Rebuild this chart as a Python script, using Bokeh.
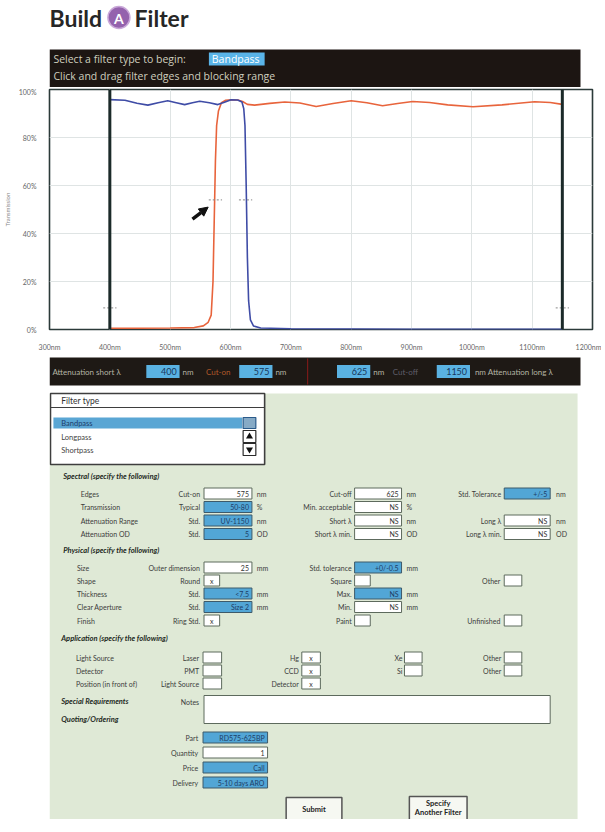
from bokeh.plotting import figure
from bokeh.models import Range1d, FixedTicker, Span, Arrow, NormalHead
from bokeh.layouts import column
from bokeh.embed import file_html
from bokeh.resources import INLINE
from bokeh.core.properties import value

# ---------------- chart data ----------------
wl_cuton = [400, 450, 500, 540, 555, 563, 568, 571, 573, 575, 577, 580, 585, 592, 601, 612, 620,
            628, 640, 665, 690, 715, 742, 770, 800, 826, 852, 877, 902, 930, 960, 1002, 1050, 1104, 1130, 1150]
t_cuton = [0.5, 0.5, 0.6, 0.8, 1.5, 3, 6, 20, 45, 70, 85, 91, 94.5, 95.5, 95.7, 95.6, 95.0,
           93.8, 93.5, 94.2, 94.8, 94.4, 92.9, 94.2, 95.3, 94.5, 93.2, 94.2, 95.0, 94.6, 93.6, 92.8, 93.6, 94.9, 94.6, 93.8]
wl_cutoff = [400, 425, 445, 463, 480, 496, 510, 524, 537, 549, 565, 579, 590, 601, 612, 619, 622,
             624, 626, 628, 630, 633, 638, 650, 700, 800, 900, 1000, 1100, 1150]
t_cutoff = [95.8, 95.5, 94.3, 93.5, 94.5, 95.3, 94.5, 93.7, 94.5, 95.1, 94.5, 93.7, 94.7, 95.7, 95.6, 94.8, 92,
            85, 60, 30, 12, 4, 1.5, 0.6, 0.3, 0.2, 0.1, 0.1, 0.1, 0.1]
edges_nm = [400, 575, 625, 1150]
edge_marker_pct = [9, 54, 54, 9]
x_ticks = [300, 400, 500, 600, 700, 800, 900, 1000, 1100, 1200]
x_tick_labels = ["300nm", "400nm", "500nm", "600nm", "700nm", "800nm", "900nm", "1000nm", "1100nm", "1200nm"]
y_ticks = [0, 20, 40, 60, 80, 100]
y_tick_labels = ["0%", "20%", "40%", "60%", "80%", "100%"]
arrow_nm = [537, 563]
arrow_pct = [46, 51]

# ---------------- form data ----------------
title_words = ["Build", "A", "Filter"]
bar_line1 = "Select a filter type to begin:"
bar_line2 = "Click and drag filter edges and blocking range"
filter_types = ["Bandpass", "Longpass", "Shortpass"]

spectral_labels = ["Edges", "Transmission", "Attenuation Range", "Attenuation OD"]
spectral_sub = ["Cut-on", "Typical", "Std.", "Std."]
spectral_vals = ["575", "50-80", "UV-1150", "5"]
spectral_blue = [False, True, True, True]
spectral_units = ["nm", "%", "nm", "OD"]
spectral_sub2 = ["Cut-off", "Min. acceptable", "Short λ", "Short λ min."]
spectral_vals2 = ["625", "NS", "NS", "NS"]
spectral_units2 = ["nm", "%", "nm", "OD"]
spectral_sub3 = ["Std. Tolerance", "", "Long λ", "Long λ min."]
spectral_vals3 = ["+/-5", None, "NS", "NS"]
spectral_blue3 = [True, False, False, False]
spectral_units3 = ["nm", "", "nm", "OD"]

physical_labels = ["Size", "Shape", "Thickness", "Clear Aperture", "Finish"]
physical_sub = ["Outer dimension", "Round", "Std.", "Std.", "Ring Std."]
physical_vals = ["25", "x", "<7.5", "Size 2", "x"]
physical_kind = ["wide", "small", "wide", "wide", "small"]
physical_blue = [False, False, True, True, False]
physical_units = ["mm", "", "mm", "mm", ""]
physical_sub2 = ["Std. tolerance", "Square", "Max.", "Min.", "Paint"]
physical_vals2 = ["+0/-0.5", "", "NS", "NS", ""]
physical_kind2 = ["wide", "small", "wide", "wide", "small"]
physical_blue2 = [True, False, True, False, False]
physical_units2 = ["mm", "", "mm", "mm", ""]
physical_sub3 = [None, "Other", None, None, "Unfinished"]

app_rows = ["Light Source", "Detector", "Position (in front of)"]
app_c1 = ["Laser", "PMT", "Light Source"]
app_c2 = ["Hg", "CCD", "Detector"]
app_c3 = ["Xe", "Si", None]
app_c4 = ["Other", "Other", None]

quote_labels = ["Part", "Quantity", "Price", "Delivery"]
quote_vals = ["RD575-625BP", "1", "Call", "5-10 days ARO"]
quote_blue = [True, False, True, True]

atten = ["Attenuation short λ", "Cut-on", "Cut-off", "nm Attenuation long λ"]

FONT = value("Lato")
W = 589
BL, BR = 37, 9          # identical left/right borders for every figure (frames align in the column)
XR = (8 + BL, 8 + W - BR)  # page-x of the frame: 45 .. 588

# ---------------- header ----------------
top = figure(width=W, height=87, x_range=Range1d(*XR), y_range=Range1d(95, 8),
             x_axis_location=None, y_axis_location=None,
             min_border_left=BL, min_border_right=BR, min_border_top=0, min_border_bottom=0,
             toolbar_location=None, output_backend="svg")
top.grid.visible = False
top.outline_line_color = None
top.text(x=[45], y=[25], text=[title_words[0]], text_font=FONT, text_font_style="bold",
         text_font_size="23px", text_baseline="middle", text_color="#262626")
top.scatter(x=[116], y=[25], size=22, fill_color="#9462ad", line_color="#c9a8d8", line_width=1.5)
top.text(x=[116], y=[25.5], text=[title_words[1]], text_font=FONT, text_font_style="bold",
         text_font_size="14px", text_align="center", text_baseline="middle", text_color="white")
top.text(x=[132], y=[25], text=[title_words[2]], text_font=FONT, text_font_style="bold",
         text_font_size="23px", text_baseline="middle", text_color="#262626")
top.quad(left=[45], right=[589], top=[57], bottom=[95], fill_color="#1c1512", line_color=None)
top.text(x=[49], y=[66.5], text=[bar_line1], text_font=value("Open Sans"), text_font_size="10.5px",
         text_baseline="middle", text_color="#cfcfbf")
top.quad(left=[208], right=[265], top=[60], bottom=[73], fill_color="#5ab4e8", line_color=None)
top.text(x=[211], y=[66.5], text=[filter_types[0]], text_font=value("Open Sans"), text_font_size="10.5px",
         text_baseline="middle", text_color="white")
top.text(x=[49], y=[83.5], text=[bar_line2], text_font=value("Open Sans"), text_font_size="10.5px",
         text_baseline="middle", text_color="#cfcfbf")

# ---------------- chart ----------------
p = figure(width=W, height=263, frame_width=W - BL - BR, frame_height=240,
           x_range=Range1d(300, 1200), y_range=Range1d(0, 100),
           min_border_left=BL, min_border_right=BR, min_border_top=2, min_border_bottom=21,
           toolbar_location=None, output_backend="svg")
p.outline_line_color = "#2b3a39"
p.outline_line_width = 1.6
p.xaxis.ticker = FixedTicker(ticks=x_ticks)
p.xaxis.major_label_overrides = {t: l for t, l in zip(x_ticks, x_tick_labels)}
p.yaxis.ticker = FixedTicker(ticks=y_ticks)
p.yaxis.major_label_overrides = {t: l for t, l in zip(y_ticks, y_tick_labels)}
for ax in (p.xaxis[0], p.yaxis[0]):
    ax.axis_line_color = None
    ax.major_tick_line_color = None
    ax.minor_tick_line_color = None
    ax.major_label_text_font = "Lato"
    ax.major_label_text_font_size = "7px"
    ax.major_label_text_color = "#666666"
p.xaxis.major_label_standoff = 7
p.yaxis.major_label_standoff = 7
p.yaxis.axis_label = "Transmission"
p.yaxis.axis_label_text_font = "Lato"
p.yaxis.axis_label_text_font_size = "6px"
p.yaxis.axis_label_text_font_style = "normal"
p.yaxis.axis_label_text_color = "#888888"
p.yaxis.axis_label_standoff = 5
p.xgrid.grid_line_color = "#dfe4e4"
p.ygrid.grid_line_color = "#dfe4e4"
p.line(wl_cuton, t_cuton, line_color="#e8643c", line_width=1.6)
p.line(wl_cutoff, t_cutoff, line_color="#3f4ca6", line_width=1.6)
for e in (edges_nm[0], edges_nm[-1]):
    p.add_layout(Span(location=e, dimension="height", line_color="#1b2a29", line_width=3))
p.segment(x0=[e - 11 for e in edges_nm], y0=edge_marker_pct, x1=[e + 11 for e in edges_nm],
          y1=edge_marker_pct, line_color="#888888", line_width=1, line_dash="2 2")
p.add_layout(Arrow(end=NormalHead(size=9, fill_color="#111111", line_color="#111111"),
                   x_start=arrow_nm[0], y_start=arrow_pct[0], x_end=arrow_nm[1], y_end=arrow_pct[1],
                   line_width=3.5, line_color="#111111"))

# ---------------- form ----------------
FH = 466
f = figure(width=W, height=FH, x_range=Range1d(*XR), y_range=Range1d(358 + FH, 358),
           x_axis_location=None, y_axis_location=None,
           min_border_left=BL, min_border_right=BR, min_border_top=0, min_border_bottom=0,
           toolbar_location=None, output_backend="svg")
f.grid.visible = False
f.outline_line_color = None

STY = {
    "label": ("left", "7px", "#3c3c3c", "normal"),
    "rlabel": ("right", "7px", "#3c3c3c", "normal"),
    "head": ("left", "7.5px", "#1e2a1e", "bold italic"),
    "val": ("right", "7px", "#333333", "normal"),
    "valb": ("right", "7px", "#1d3d66", "normal"),
    "xmark": ("center", "7px", "#333333", "normal"),
    "btn": ("center", "7.5px", "#222222", "bold"),
}
T = {k: dict(x=[], y=[], text=[]) for k in STY}
B = {"white": dict(left=[], right=[], top=[], bottom=[]), "blue": dict(left=[], right=[], top=[], bottom=[])}


def add(style, x, y, s):
    if s:
        T[style]["x"].append(x)
        T[style]["y"].append(y)
        T[style]["text"].append(s)


def box(x0, x1, yc, txt="", blue=False, small=False, h=5.5):
    d = B["blue" if blue else "white"]
    d["left"].append(x0); d["right"].append(x1); d["top"].append(yc - h); d["bottom"].append(yc + h)
    if txt:
        if small:
            add("xmark", (x0 + x1) / 2, yc, txt)
        else:
            add("valb" if blue else "val", x1 - 3, yc, txt)


# green panel
f.quad(left=[45], right=[585], top=[398], bottom=[830], fill_color="#dfe9d6", line_color=None)

# attenuation bar
f.quad(left=[45], right=[589], top=[362], bottom=[390], fill_color="#1e1915", line_color=None)
ay = 376
f.text(x=[48], y=[ay], text=[atten[0]], text_font=FONT, text_font_size="8px", text_baseline="middle", text_color="#b4b4a4")
f.text(x=[205], y=[ay], text=[atten[1]], text_font=FONT, text_font_size="8px", text_baseline="middle", text_color="#b0582a")
f.text(x=[396], y=[ay], text=[atten[2]], text_font=FONT, text_font_size="8px", text_baseline="middle", text_color="#5e5e6a")
f.text(x=[480], y=[ay], text=[atten[3]], text_font=FONT, text_font_size="8px", text_baseline="middle", text_color="#b4b4a4")
abox_l = [144, 239, 339, 441]
f.quad(left=abox_l, right=[a + 34 for a in abox_l], top=[ay - 6.5] * 4, bottom=[ay + 6.5] * 4,
       fill_color="#5ab2e2", line_color=None)
f.text(x=[a + 31 for a in abox_l], y=[ay] * 4, text=[str(e) for e in edges_nm], text_font=FONT,
       text_font_size="9px", text_align="right", text_baseline="middle", text_color="#17365c")
f.text(x=[181, 276, 376], y=[ay] * 3, text=["nm"] * 3, text_font=FONT, text_font_size="8px",
       text_baseline="middle", text_color="#b4b4a4")
f.segment(x0=[309], y0=[363], x1=[309], y1=[389], line_color="#8a1a1a", line_width=1)

# filter type box
f.quad(left=[46], right=[265], top=[398], bottom=[469], fill_color="white", line_color="#3e3e3e", line_width=1.6)
f.segment(x0=[46], y0=[412], x1=[265], y1=[412], line_color="#3e3e3e", line_width=1.2)
f.text(x=[57], y=[405], text=["Filter type"], text_font=FONT, text_font_size="8.5px", text_baseline="middle", text_color="#333333")
f.quad(left=[49], right=[242], top=[422], bottom=[433], fill_color="#5aa6d4", line_color=None)
f.text(x=[57, 57, 57], y=[427.5, 441.5, 455], text=filter_types, text_font=FONT, text_font_size="7.5px",
       text_baseline="middle", text_color=["#1d3d6a", "#444444", "#444444"])
f.quad(left=[243], right=[256], top=[422], bottom=[433], fill_color="#86aac6", line_color="#2a5a8a", line_width=1.2)
f.quad(left=[243, 243], right=[256, 256], top=[435, 448], bottom=[447, 460], fill_color="white", line_color="#2a2a2a", line_width=1.2)
f.scatter(x=[249.5], y=[441], marker="triangle", size=7, fill_color="#111111", line_color=None)
f.scatter(x=[249.5], y=[454], marker="inverted_triangle", size=7, fill_color="#111111", line_color=None)

# spectral
add("head", 59, 481, "Spectral (specify the following)")
sy = [498, 511.5, 525, 538.5]
for i, yy in enumerate(sy):
    add("label", 77, yy, spectral_labels[i])
    add("rlabel", 199, yy, spectral_sub[i])
    box(203, 252, yy, spectral_vals[i], spectral_blue[i])
    add("label", 257, yy, spectral_units[i])
    add("rlabel", 354, yy, spectral_sub2[i])
    box(357, 405, yy, spectral_vals2[i])
    add("label", 410, yy, spectral_units2[i])
    if spectral_vals3[i] is not None:
        add("rlabel", 507, yy, spectral_sub3[i])
        box(510, 557, yy, spectral_vals3[i], spectral_blue3[i])
        add("label", 563, yy, spectral_units3[i])

# physical
add("head", 59, 555, "Physical (specify the following)")
py_ = [572, 585, 598, 611.5, 625]
for i, yy in enumerate(py_):
    add("label", 73, yy, physical_labels[i])
    add("rlabel", 199, yy, physical_sub[i])
    if physical_kind[i] == "wide":
        box(203, 252, yy, physical_vals[i], physical_blue[i])
    else:
        box(203, 219, yy, physical_vals[i], small=True)
    add("label", 257, yy, physical_units[i])
    add("rlabel", 354, yy, physical_sub2[i])
    if physical_kind2[i] == "wide":
        box(357, 405, yy, physical_vals2[i], physical_blue2[i])
    else:
        box(357, 373, yy, physical_vals2[i], small=True)
    add("label", 410, yy, physical_units2[i])
    if physical_sub3[i]:
        add("rlabel", 506, yy, physical_sub3[i])
        box(510, 528, yy, "", small=True)

# application
add("head", 57, 643, "Application (specify the following)")
ay_ = [662, 675, 688]
for i, yy in enumerate(ay_):
    add("label", 72, yy, app_rows[i])
    add("rlabel", 198, yy, app_c1[i]); box(202, 221, yy, "", small=True)
    add("rlabel", 300, yy, app_c2[i]); box(303, 322, yy, "x", small=True)
    if app_c3[i]:
        add("rlabel", 406, yy, app_c3[i]); box(408, 426, yy, "", small=True)
    if app_c4[i]:
        add("rlabel", 507, yy, app_c4[i]); box(510, 528, yy, "", small=True)

add("head", 57, 706, "Special Requirements")
add("rlabel", 198, 706, "Notes")
box(203, 557, 714, "", h=14)
add("head", 57, 724, "Quoting/Ordering")

qy = [742, 757, 772, 787]
for i, yy in enumerate(qy):
    add("rlabel", 197, yy, quote_labels[i])
    box(202, 268, yy, quote_vals[i], quote_blue[i])

# buttons
f.quad(left=[287, 413], right=[344, 472], top=[802, 801], bottom=[830, 830],
       fill_color="#f6f8f2", line_color="#555555", line_width=1.5)
add("btn", 315.5, 814, "Submit")
add("btn", 442.5, 808, "Specify")
add("btn", 442.5, 817, "Another Filter")

f.quad(**B["white"], fill_color="white", line_color="#5d6a5d", line_width=1)
f.quad(**B["blue"], fill_color="#52a6d6", line_color="#3d5a6a", line_width=1)
for k, (al, sz, col, st) in STY.items():
    d = T[k]
    if d["x"]:
        f.text(x=d["x"], y=d["y"], text=d["text"], text_align=al, text_baseline="middle",
               text_font=FONT, text_font_size=sz, text_color=col, text_font_style=st)

page = column(top, p, f, spacing=0)
open("out.html", "w").write(file_html(page, INLINE))
